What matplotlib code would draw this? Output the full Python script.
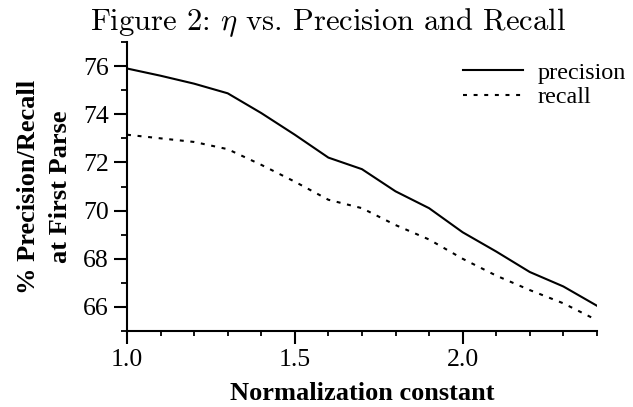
import matplotlib
matplotlib.use('Agg')
import matplotlib.pyplot as plt
import numpy as np
from matplotlib.ticker import MultipleLocator

norm_const = [1.0, 1.1, 1.2, 1.3, 1.4, 1.5, 1.6, 1.7, 1.8, 1.9, 2.0, 2.1, 2.2, 2.3, 2.4]
precision = [75.9, 75.6, 75.27, 74.87, 74.05, 73.15, 72.2, 71.72, 70.8, 70.1, 69.1, 68.3, 67.45, 66.85, 66.05]
recall = [73.15, 73.0, 72.85, 72.55, 71.9, 71.2, 70.45, 70.1, 69.4, 68.8, 68.0, 67.3, 66.7, 66.15, 65.45]

plt.rcParams['mathtext.fontset'] = 'cm'
serif = 'Liberation Serif'

fig = plt.figure(figsize=(6.33, 4.07), dpi=100)
ax = fig.add_axes([0.2006, 0.1867, 0.7424, 0.7101])

ax.plot(norm_const, precision, color='black', linewidth=1.5, label='precision')
ax.plot(norm_const, recall, color='black', linewidth=1.5, linestyle=(0, (1.9, 3.2)), label='recall')

ax.set_xlim(1.0, 2.4)
ax.set_ylim(65, 77)
ax.spines['top'].set_visible(False)
ax.spines['right'].set_visible(False)
for s in ['left', 'bottom']:
    ax.spines[s].set_linewidth(1.5)

ax.xaxis.set_major_locator(MultipleLocator(0.5))
ax.xaxis.set_minor_locator(MultipleLocator(0.1))
ax.yaxis.set_minor_locator(MultipleLocator(1))
ax.set_yticks(np.arange(66, 77, 2))
ax.tick_params(which='major', length=9.5, width=1.5, direction='out', labelsize=18.5, pad=3.6)
ax.tick_params(axis='y', which='minor', length=4.3, width=1.3, direction='out')
ax.tick_params(axis='x', which='minor', length=3.6, width=1.3, direction='out')
ax.xaxis.set_major_formatter(matplotlib.ticker.FormatStrFormatter('%.1f'))
for lab in ax.get_xticklabels() + ax.get_yticklabels():
    lab.set_fontfamily(serif)

ax.set_xlabel('Normalization constant', fontfamily=serif, fontweight='bold', fontsize=19, labelpad=8)
ax.set_ylabel('% Precision/Recall\nat First Parse', fontfamily=serif, fontweight='bold', fontsize=19,
              labelpad=8, linespacing=1.5)

fig.text(90 / 633, 0.985, r'Figure 2: $\eta$ vs. Precision and Recall', fontfamily='cmr10',
         fontsize=22, ha='left', va='top')

leg = ax.legend(loc='upper left', frameon=False, handlelength=2.48,
                prop={'family': serif, 'size': 17.4}, bbox_to_anchor=(463 / 633, 1 - 62 / 407),
                bbox_transform=fig.transFigure, borderpad=0, borderaxespad=0,
                labelspacing=0.1, handletextpad=0.62)

fig.savefig('out.png', dpi=100)
